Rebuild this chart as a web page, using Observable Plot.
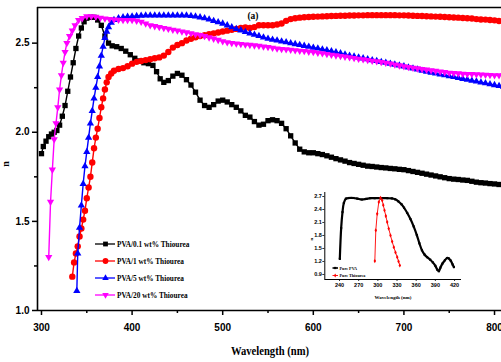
<!DOCTYPE html>
<html><head><meta charset="utf-8">
<script src="https://cdn.jsdelivr.net/npm/d3@7"></script>
<script src="https://cdn.jsdelivr.net/npm/@observablehq/plot@0.6"></script>
<style>
body{margin:0;background:#fff}
#wrap{position:relative;width:501px;height:362px;overflow:hidden;background:#fff}
#wrap svg{position:absolute;left:0;top:0}
</style>
</head><body><div id="wrap"></div>
<script>
// ---------- main chart data ----------
const seriesNames = ["PVA/0.1 wt% Thiourea","PVA/1 wt% Thiourea","PVA/5 wt% Thiourea","PVA/20 wt% Thiourea"];
const seriesColors = ["#000000","#ff0000","#0000ff","#ff00ff"];

const wl01 = [300,302,305,308,311,314,317,320,323,326, 329,332,335,338,341,344,347,350,354,358, 362,366,370,374,378,383,388,393,398,403, 408,413,418,423,427,431,435,440,445,450, 455,460,465,470,475,480,485,490,495,500, 505,510,515,520,525,530,535,540,545,550, 555,560,565,570,575,580,585,590,595,600, 605,610,615,620,625,630,635,640,645,650, 655,660,665,670,675,680,685,690,695,700, 705,710,715,720,725,730,735,740,745,750, 755,760,765,770,775,780,785,790,795,800, 805,810];
const n01 = [1.88,1.92,1.95,1.975,1.99,2.00,2.01,2.04,2.09,2.15, 2.23,2.31,2.39,2.47,2.54,2.585,2.62,2.64,2.645,2.645, 2.63,2.60,2.54,2.50,2.485,2.48,2.47,2.455,2.435,2.415, 2.40,2.39,2.385,2.375,2.34,2.30,2.28,2.29,2.315,2.33, 2.32,2.295,2.265,2.225,2.18,2.15,2.14,2.155,2.175,2.18, 2.17,2.155,2.14,2.12,2.095,2.085,2.06,2.04,2.045,2.065, 2.07,2.065,2.05,2.02,1.98,1.94,1.905,1.89,1.885,1.885, 1.88,1.875,1.868,1.86,1.852,1.845,1.838,1.83,1.825,1.82, 1.815,1.81,1.808,1.805,1.802,1.80,1.797,1.795,1.792,1.79, 1.785,1.78,1.775,1.77,1.765,1.76,1.755,1.75,1.745,1.74, 1.737,1.735,1.732,1.73,1.725,1.72,1.717,1.715,1.712,1.71, 1.707,1.705];

const wl1 = [334,336,338,340,342,344,346,348,350,352, 354,356,358,360,362,364,366,368,370,372, 374,377,380,385,390,395,400,405,410,415, 420,425,430,435,440,445,450,455,460,465, 470,475,480,485,490,495,500,505,510,515, 520,525,530,535,540,545,550,555,560,565, 570,575,580,585,590,595,600,605,610,615, 620,625,630,635,640,645,650,655,660,665, 670,675,680,685,690,695,700,705,710,715, 720,725,730,735,740,745,750,755,760,765, 770,775,780,785,790,795,800,805,810];
const n1 = [1.19,1.27,1.32,1.36,1.415,1.46,1.51,1.56,1.63,1.69, 1.75,1.83,1.91,1.97,2.02,2.08,2.14,2.19,2.24,2.28, 2.31,2.33,2.345,2.355,2.36,2.37,2.385,2.395,2.40,2.405, 2.41,2.415,2.42,2.43,2.45,2.475,2.49,2.50,2.515,2.525, 2.533,2.54,2.545,2.55,2.555,2.56,2.565,2.57,2.575,2.58, 2.585,2.588,2.585,2.59,2.60,2.60,2.60,2.60,2.605,2.61, 2.625,2.635,2.64,2.643,2.645,2.647,2.648,2.649,2.65,2.651, 2.652,2.653,2.654,2.654,2.655,2.655,2.656,2.656,2.657,2.657, 2.657,2.657,2.657,2.657,2.657,2.656,2.656,2.655,2.654,2.653, 2.652,2.651,2.65,2.649,2.648,2.647,2.645,2.644,2.643,2.641, 2.64,2.638,2.635,2.633,2.632,2.63,2.628,2.624,2.62];

const wl5 = [339,340,342,344,346,348,350,352,354,356, 358,360,362,364,366,368,370,372,374,377, 380,385,390,395,400,405,410,415,420,425, 430,435,440,445,450,455,460,465,470,475, 480,485,490,495,500,505,510,515,520,525, 530,535,540,545,550,555,560,565,570,575, 580,585,590,595,600,605,610,615,620,625, 630,635,640,645,650,655,660,665,670,675, 680,685,690,695,700,705,710,715,720,725, 730,735,740,745,750,755,760,765,770,775, 780,785,790,795,800,805,810];
const n5 = [1.11,1.32,1.465,1.59,1.71,1.81,1.89,1.97,2.05,2.12, 2.19,2.25,2.31,2.37,2.43,2.48,2.53,2.565,2.59,2.615, 2.63,2.64,2.645,2.648,2.65,2.652,2.654,2.655,2.656,2.656, 2.656,2.656,2.656,2.656,2.656,2.656,2.656,2.653,2.65,2.645, 2.64,2.633,2.625,2.618,2.61,2.60,2.59,2.58,2.572,2.563, 2.555,2.547,2.54,2.532,2.525,2.52,2.515,2.51,2.505,2.50, 2.495,2.49,2.485,2.48,2.475,2.47,2.465,2.46,2.455,2.449, 2.443,2.437,2.43,2.425,2.42,2.415,2.41,2.405,2.40,2.395, 2.39,2.385,2.38,2.375,2.37,2.364,2.358,2.352,2.345,2.34, 2.335,2.33,2.325,2.32,2.315,2.31,2.305,2.30,2.295,2.29, 2.285,2.28,2.275,2.27,2.265,2.26,2.255];

const wl20 = [308,310,312,314,316,318,320,322,324,326, 328,331,334,337,341,345,350,355,360,365, 370,375,380,385,390,395,400,405,410,415, 420,425,430,435,440,445,450,455,460,465, 470,475,480,485,490,495,500,505,510,515, 520,525,530,535,540,545,550,555,560,565, 570,575,580,585,590,595,600,605,610,615, 620,625,630,635,640,645,650,655,660,665, 670,675,680,685,690,695,700,705,710,715, 720,725,730,735,740,745,750,755,760,765, 770,775,780,785,790,795,800,805,810];
const n20 = [1.30,1.61,1.79,1.96,2.05,2.14,2.24,2.32,2.39,2.45, 2.50,2.54,2.57,2.60,2.63,2.64,2.65,2.65,2.648,2.642, 2.638,2.635,2.632,2.631,2.63,2.63,2.63,2.625,2.62,2.61, 2.60,2.595,2.59,2.585,2.58,2.575,2.57,2.565,2.56,2.555, 2.55,2.545,2.54,2.532,2.525,2.518,2.51,2.505,2.50,2.498, 2.495,2.492,2.49,2.487,2.485,2.481,2.478,2.474,2.47,2.467, 2.465,2.462,2.46,2.457,2.455,2.452,2.45,2.446,2.443,2.439, 2.435,2.431,2.428,2.424,2.42,2.416,2.412,2.409,2.405,2.401, 2.398,2.394,2.39,2.385,2.38,2.375,2.37,2.366,2.362,2.358, 2.355,2.351,2.347,2.344,2.34,2.337,2.334,2.332,2.33,2.328, 2.327,2.326,2.325,2.324,2.322,2.321,2.32,2.32,2.32];

const xTicks = [300,400,500,600,700,800];
const xMinor = [350,450,550,650,750];
const yTicks = [1.0,1.5,2.0,2.5];
const yMinor = [1.25,1.75,2.25];

// ---------- inset data ----------
const insetNames = ["Pure PVA","Pure Thiourea"];
const wlPVA = [240.5,242.6,244.7,246.8,250,255,262,268,275,282, 288,295,305,315,322,327,332,337,341,346, 351,356,361,365,369,373,377,382,386,390, 393,395.4,398,401,405,408.5,411,414,417,419];
const nPVA = [1.26,1.97,2.34,2.55,2.65,2.665,2.665,2.65,2.63,2.645, 2.66,2.66,2.66,2.66,2.655,2.635,2.59,2.52,2.44,2.32, 2.18,2.01,1.81,1.62,1.46,1.36,1.30,1.24,1.18,1.10, 1.01,0.975,1.06,1.15,1.23,1.28,1.27,1.22,1.13,1.07];
const wlThio = [295.3,296.8,299,301.5,304.2,306.8,308.5,310.4,312.5,314.6,317,319.8,322.4,325,327.6,330.3,332.4,334.4];
const nThio = [1.21,1.92,2.30,2.57,2.67,2.61,2.50,2.38,2.25,2.11,1.96,1.80,1.66,1.53,1.41,1.30,1.20,1.11];
const insetXTicks = [240,270,300,330,360,390,420];
const insetYTicks = [0.9,1.2,1.5,1.8,2.1,2.4,2.7];

// ---------- build ----------
const rows = (w, n) => w.map((x, i) => ({x, y: n[i]}));
const triDown = {draw(ctx, size) {
  d3.symbolTriangle.draw({moveTo:(x,y)=>ctx.moveTo(x,-y), lineTo:(x,y)=>ctx.lineTo(x,-y), closePath:()=>ctx.closePath()}, size);
}};
const symbols = ["square","circle","triangle",triDown];
const radii = [3.0,3.2,2.7,2.7];
const data = [rows(wl01,n01), rows(wl1,n1), rows(wl5,n5), rows(wl20,n20)];

const xDom = [295.6, 807.7], yDom = [1.0, 2.7];
const serif = "'Liberation Serif','Times New Roman',serif";
const sans = "'Liberation Sans',Arial,sans-serif";

const main = Plot.plot({
  width: 501, height: 362,
  marginLeft: 37, marginRight: 0, marginTop: 7, marginBottom: 52,
  x: {domain: xDom}, y: {domain: yDom},
  style: {fontFamily: sans, fontSize: "10px", fontWeight: "bold", background: "transparent", color: "#000", overflow: "visible"},
  marks: [
    ...data.flatMap((d, i) => [
      Plot.line(d, {x: "x", y: "y", stroke: seriesColors[i], strokeWidth: 1.4, clip: true}),
      Plot.dot(d, {x: "x", y: "y", fill: seriesColors[i], stroke: "none", symbol: symbols[i], r: radii[i], clip: true})
    ]),
    Plot.ruleX([xDom[0]], {stroke: "#000", strokeWidth: 1.6}),
    Plot.ruleY([yDom[0]], {stroke: "#000", strokeWidth: 1.6}),
    Plot.ruleY([yDom[1]], {stroke: "#000", strokeWidth: 1.6}),
    Plot.axisX({ticks: xTicks, tickSize: 5, tickPadding: 8, strokeWidth: 1.5, tickFormat: d => String(d), label: null}),
    Plot.axisX({ticks: xMinor, tickSize: 3, strokeWidth: 1.5, tickFormat: () => "", label: null}),
    Plot.axisY({ticks: yTicks, tickSize: 5, tickPadding: 3, strokeWidth: 1.5, tickFormat: d => d.toFixed(1), label: null}),
    Plot.axisY({ticks: yMinor, tickSize: 3, strokeWidth: 1.5, tickFormat: () => "", label: null})
  ]
});

const inset = Plot.plot({
  width: 180, height: 120,
  marginLeft: 34.3, marginRight: 9, marginTop: 7, marginBottom: 26,
  x: {domain: [217, 430.9]}, y: {domain: [0.784, 2.792]},
  style: {fontFamily: sans, fontSize: "5.5px", fontWeight: "bold", background: "transparent", color: "#000"},
  marks: [
    Plot.line(rows(wlPVA, nPVA), {x: "x", y: "y", stroke: "#000", strokeWidth: 2.2, curve: "catmull-rom"}),
    Plot.dot(rows(wlPVA, nPVA), {x: "x", y: "y", fill: "#000", symbol: "square", r: 1.2}),
    Plot.line(rows(wlThio, nThio), {x: "x", y: "y", stroke: "#ff0000", strokeWidth: 0.9}),
    Plot.dot(rows(wlThio, nThio), {x: "x", y: "y", fill: "#ff0000", symbol: "diamond", r: 1.3}),
    Plot.ruleX([217], {stroke: "#000", strokeWidth: 1}),
    Plot.ruleY([0.784], {stroke: "#000", strokeWidth: 1}),
    Plot.axisX({ticks: insetXTicks, tickSize: 2, tickPadding: 2, strokeWidth: 0.8, tickFormat: d => String(d), label: null}),
    Plot.axisY({ticks: insetYTicks, tickSize: 2, tickPadding: 1, strokeWidth: 0.8, tickFormat: d => d.toFixed(1), label: null})
  ]
});

const wrap = document.getElementById("wrap");
wrap.appendChild(main);
inset.style.left = "290px"; inset.style.top = "185px";
wrap.appendChild(inset);

// ---------- text overlay & legends ----------
const ov = d3.create("svg").attr("width", 501).attr("height", 362).style("pointer-events", "none");
ov.append("text").attr("x", 270).attr("y", 355).attr("text-anchor", "middle")
  .attr("font-family", serif).attr("font-weight", "bold").attr("font-size", 12)
  .attr("textLength", 78).attr("lengthAdjust", "spacingAndGlyphs").text("Wavelength (nm)");
ov.append("text").attr("transform", "translate(8.5,164) rotate(-90)").attr("text-anchor", "middle")
  .attr("font-family", serif).attr("font-weight", "bold").attr("font-size", 10).text("n");
ov.append("text").attr("x", 253).attr("y", 18.5).attr("text-anchor", "middle")
  .attr("font-family", serif).attr("font-weight", "bold").attr("font-size", 9.5).text("(a)");

const legY = [244, 261, 278, 295];
const symPath = (s, r) => (typeof s === "string" ? d3.symbol(s === "square" ? d3.symbolSquare : s === "circle" ? d3.symbolCircle : d3.symbolTriangle, r*r*Math.PI) : d3.symbol(s, r*r*Math.PI))();
seriesNames.forEach((name, i) => {
  const g = ov.append("g");
  g.append("line").attr("x1", 95).attr("x2", 115).attr("y1", legY[i]).attr("y2", legY[i]).attr("stroke", seriesColors[i]).attr("stroke-width", 1.3);
  g.append("path").attr("d", symPath(symbols[i], radii[i] * 0.9)).attr("transform", `translate(105.5,${legY[i]})`).attr("fill", seriesColors[i]);
  g.append("text").attr("x", 117).attr("y", legY[i] + 2.6).attr("font-family", serif).attr("font-weight", "bold").attr("font-size", 7.3).text(name);
});

// inset labels & legend
ov.append("text").attr("x", 393).attr("y", 298.5).attr("text-anchor", "middle")
  .attr("font-family", serif).attr("font-weight", "bold").attr("font-size", 5).text("Wavelength (nm)");
ov.append("text").attr("transform", "translate(313,239) rotate(-90)").attr("text-anchor", "middle")
  .attr("font-family", serif).attr("font-weight", "bold").attr("font-size", 5).text("n");
const insetColors = ["#000000", "#ff0000"];
const insetLegY = [268, 275.5];
insetNames.forEach((name, i) => {
  ov.append("line").attr("x1", 332.5).attr("x2", 338).attr("y1", insetLegY[i]).attr("y2", insetLegY[i]).attr("stroke", insetColors[i]).attr("stroke-width", i ? 0.9 : 1.6);
  ov.append("path").attr("d", d3.symbol(i ? d3.symbolDiamond : d3.symbolSquare, 5)()).attr("transform", `translate(335.2,${insetLegY[i]})`).attr("fill", insetColors[i]);
  ov.append("text").attr("x", 339.5).attr("y", insetLegY[i] + 1.5).attr("font-family", serif).attr("font-weight", "bold").attr("font-size", 4.2).text(name);
});
wrap.appendChild(ov.node());
</script>
</body></html>
